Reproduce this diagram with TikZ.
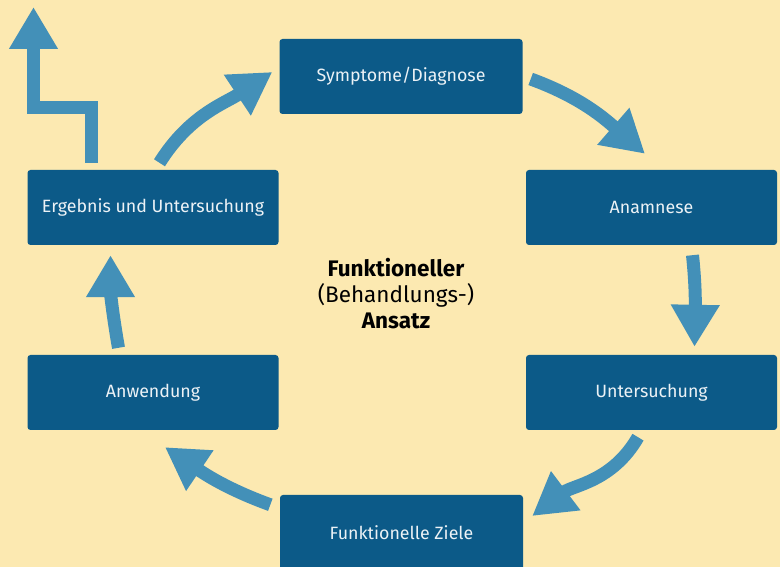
\documentclass[tikz,border=0pt]{standalone}
\usepackage{fontspec}
\setmainfont{Fira Sans}
\usetikzlibrary{arrows.meta}
\definecolor{PaperClr}{HTML}{FCE9B1}
\definecolor{BoxClr}{HTML}{0C5A88}
\definecolor{ArrowClr}{HTML}{4390B8}

\begin{document}
\begin{tikzpicture}[x=1pt,y=1pt,
  box/.style={fill=BoxClr,rounded corners=3pt,text=white!92!BoxClr,minimum height=75pt,
    inner sep=0pt,font=\fontsize{17.8}{21}\selectfont},
  wide/.style={box,minimum width=251pt},
  narrow/.style={box,minimum width=243pt},
  flow/.style={draw=ArrowClr,line width=13pt,line join=miter,-{Triangle[width=46pt,length=42pt]}}]

% Background, also fixes the page size.
\fill[PaperClr] (0,0) rectangle (780,567);
\useasboundingbox (0,0) rectangle (780,567);

% The six steps of the cycle.
\node[narrow] (symp)  at (401,490.5)   {Symptome/Diagnose};
\node[wide]   (anam)  at (651.5,359.5) {Anamnese};
\node[wide]   (unter) at (651.5,174.5) {Untersuchung};
\node[narrow] (ziele) at (401.5,34.5)  {Funktionelle Ziele};
\node[wide]   (anw)   at (153,174.5)   {Anwendung};
\node[wide]   (ergeb) at (153,359.5)   {Ergebnis und Untersuchung};

% Centre label.
\node[align=center,font=\fontsize{22.5}{26}\selectfont] (title) at (396,273)
  {\textbf{Funktioneller}\\(Behandlungs-)\\\textbf{Ansatz}};

% Arrows between the steps.
\draw[flow] ([shift={(8,-2.5)}]symp.east) to[out=-20,in=139] ([shift={(-6.5,16)}]anam.north);
\draw[flow] ([shift={(41,-10)}]anam.south) to[out=-84,in=89] ([shift={(43,8)}]unter.north);
\draw[flow] ([shift={(-13.5,-7)}]unter.south) to[out=-120,in=37] ([shift={(9,16.5)}]ziele.east);
\draw[flow] ([shift={(-9.5,-10)}]ziele.north west) to[out=160,in=326] ([shift={(12,-17)}]anw.south);
\draw[flow] ([shift={(-34.5,7)}]anw.north) to[out=100,in=270] ([shift={(-42.5,-10)}]ergeb.south);
\draw[flow] ([shift={(6.5,7)}]ergeb.north) to[out=58,in=213.5] ([shift={(-7,4.5)}]symp.west);

% Way out of the cycle.
\coordinate (exit) at (33.5,560);
\draw[flow] ([shift={(-62,7)}]ergeb.north) -- ++(0,55.5) -| (exit);

\end{tikzpicture}
\end{document}
